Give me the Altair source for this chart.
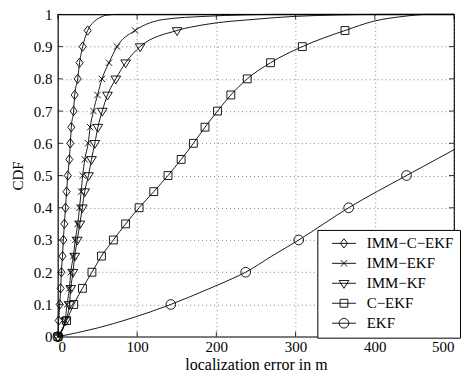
import altair as alt
import pandas as pd

# ---------------- data ----------------
series = ["IMM\u2212C\u2212EKF", "IMM\u2212EKF", "IMM\u2212KF", "C\u2212EKF", "EKF"]

cdf_marks = [0, 0.05, 0.1, 0.15, 0.2, 0.25, 0.3, 0.35, 0.4, 0.45, 0.5,
             0.55, 0.6, 0.65, 0.7, 0.75, 0.8, 0.85, 0.9, 0.95]

x_imm_c_ekf = [0, 1.0, 2.3, 3.5, 4.4, 5.8, 6.9, 8.2, 9.6, 11.0, 12.5,
               14.4, 15.7, 16.9, 19.8, 21.2, 25.0, 27.4, 31.3, 37.6]
x_imm_ekf = [0, 9.0, 11.5, 14.5, 16.3, 19.5, 22.0, 25.0, 27.3, 29.4, 31.3,
             34.0, 38.2, 40.8, 44.9, 50.0, 55.7, 64.5, 74.6, 97.4]
x_imm_kf = [0, 10.0, 14.5, 16.3, 19.0, 21.3, 24.4, 27.7, 30.8, 33.8, 38.6,
            42.4, 46.6, 50.5, 56.0, 62.6, 73.1, 85.5, 103.8, 150.4]
x_c_ekf = [0, 11.0, 20.0, 31.0, 43.0, 55.0, 70.0, 85.5, 102.5, 121.0, 139.0,
           155.6, 171.0, 185.7, 201.5, 218.3, 239.0, 268.4, 308.5, 362.4]

# tails of the curves above the last marker
tail_imm_c_ekf_x = [45, 53, 62, 74, 500]
tail_imm_c_ekf_y = [0.976, 0.99, 0.998, 1.0, 1.0]
tail_imm_ekf_x = [133, 187, 280, 500]
tail_imm_ekf_y = [0.984, 0.994, 1.0, 1.0]
tail_imm_kf_x = [187, 250, 300, 410, 500]
tail_imm_kf_y = [0.969, 0.985, 0.994, 1.0, 1.0]
tail_c_ekf_x = [399, 437, 467, 500]
tail_c_ekf_y = [0.979, 0.994, 1.0, 1.0]

# EKF: markers every 0.1, line through extra points
ekf_mark_cdf = [0, 0.1, 0.2, 0.3, 0.4, 0.5]
ekf_mark_x = [0, 142.5, 237, 304, 367, 440]
ekf_line_x = [0, 50, 91, 142.5, 190, 220, 237, 270, 304, 367, 440, 500]
ekf_line_y = [0, 0.027, 0.056, 0.1, 0.148, 0.18, 0.2, 0.25, 0.3, 0.4, 0.5, 0.58]

x_ticks = [0, 100, 200, 300, 400, 500]
y_ticks = [0, 0.1, 0.2, 0.3, 0.4, 0.5, 0.6, 0.7, 0.8, 0.9, 1.0]

# ---------------- tables ----------------
line_rows, mark_rows = [], []
groups = [
    (series[0], x_imm_c_ekf, cdf_marks, tail_imm_c_ekf_x, tail_imm_c_ekf_y),
    (series[1], x_imm_ekf, cdf_marks, tail_imm_ekf_x, tail_imm_ekf_y),
    (series[2], x_imm_kf, cdf_marks, tail_imm_kf_x, tail_imm_kf_y),
    (series[3], x_c_ekf, cdf_marks, tail_c_ekf_x, tail_c_ekf_y),
]
for name, xs_, ys_, tx, ty in groups:
    for x, y in zip(xs_ + tx, ys_ + ty):
        line_rows.append({"series": name, "x": x, "cdf": y})
    for x, y in zip(xs_, ys_):
        mark_rows.append({"series": name, "x": x, "cdf": y})
for x, y in zip(ekf_line_x, ekf_line_y):
    line_rows.append({"series": series[4], "x": x, "cdf": y})
for x, y in zip(ekf_mark_x, ekf_mark_cdf):
    mark_rows.append({"series": series[4], "x": x, "cdf": y})

line_df = pd.DataFrame(line_rows)
mark_df = pd.DataFrame(mark_rows)
xt_df = pd.DataFrame({"x": x_ticks})
yt_df = pd.DataFrame({"cdf": y_ticks})

# ---------------- styling ----------------
W, H = 397, 323
FONT = "Liberation Serif"

marker_paths = [
    "M0,-1.25L0.95,0L0,1.25L-0.95,0Z",
    "M-0.85,-0.85L0.85,0.85M-0.85,0.85L0.85,-0.85",
    "M-1.3,-0.75L1.3,-0.75L0,1.35Z",
    "M-1.05,-1.05L1.05,-1.05L1.05,1.05L-1.05,1.05Z",
    "M1.3,0A1.3,1.3,0,1,1,-1.3,0A1.3,1.3,0,1,1,1.3,0Z",
]
legend_paths = [
    "M0.33,0L6.73,0M3.53,-1.25L4.48,0L3.53,1.25L2.58,0Z",
    "M0.33,0L6.73,0M2.68,-0.85L4.38,0.85M2.68,0.85L4.38,-0.85",
    "M0.33,0L6.73,0M2.23,-0.75L4.83,-0.75L3.53,1.35Z",
    "M0.33,0L6.73,0M2.48,-1.05L4.58,-1.05L4.58,1.05L2.48,1.05Z",
    "M0.33,0L6.73,0M4.83,0A1.3,1.3,0,1,1,2.23,0A1.3,1.3,0,1,1,4.83,0Z",
]

xs = alt.Scale(domain=[0, 500], nice=False, zero=False)
ys = alt.Scale(domain=[0, 1], nice=False, zero=False)

x_axis = alt.Axis(
    values=x_ticks, title="localization error in m", titleFontSize=16,
    labelFont=FONT, titleFont=FONT, labelFontSize=15, labelColor="black",
    titleColor="black", titleFontWeight="normal",
    labelPadding=3, titlePadding=2, labelOverlap=False,
    grid=True, gridColor="#666666", gridDash=[1, 3], gridWidth=0.8,
    domain=False, ticks=False)
y_axis = alt.Axis(
    values=y_ticks, format="~g", title="CDF", titleFontSize=15,
    labelFont=FONT, titleFont=FONT, labelFontSize=15, labelColor="black",
    titleColor="black", titleFontWeight="normal",
    labelPadding=6, titlePadding=8, labelOverlap=False,
    grid=True, gridColor="#666666", gridDash=[1, 3], gridWidth=0.8,
    domain=False, ticks=False)

X = alt.X("x:Q", scale=xs, axis=x_axis)
Y = alt.Y("cdf:Q", scale=ys, axis=y_axis)

lines = alt.Chart(line_df).mark_line(
    color="black", strokeWidth=0.9, interpolate="monotone"
).encode(x=X, y=Y, detail="series:N")

markers = alt.Chart(mark_df).mark_point(
    filled=False, color="black", strokeWidth=0.9, size=56, opacity=1
).encode(
    x=X, y=Y,
    shape=alt.Shape("series:N", scale=alt.Scale(domain=series, range=marker_paths), legend=None),
)

legend_layer = alt.Chart(mark_df).mark_point(
    filled=False, color="black", strokeWidth=0.9, size=56, opacity=0
).encode(
    x=X, y=Y,
    shape=alt.Shape("series:N", scale=alt.Scale(domain=series, range=legend_paths),
                    legend=alt.Legend(
                        title=None, orient="none", legendX=260, legendY=216,
                        symbolOpacity=1, symbolStrokeColor="black",
                        symbolStrokeWidth=0.9, symbolSize=56,
                        labelFont=FONT, labelFontSize=15, labelColor="black",
                        labelOffset=28.5, padding=6, rowPadding=4.0,
                        strokeColor="black", fillColor="white")),
)

tick_style = dict(color="black", strokeWidth=0.8)
xt_bottom = alt.Chart(xt_df).mark_rule(**tick_style).encode(
    x=X, y=alt.value(H), y2=alt.value(H - 5))
xt_top = alt.Chart(xt_df).mark_rule(**tick_style).encode(
    x=X, y=alt.value(0), y2=alt.value(5))
yt_left = alt.Chart(yt_df).mark_rule(**tick_style).encode(
    y=Y, x=alt.value(0), x2=alt.value(5))
yt_right = alt.Chart(yt_df).mark_rule(**tick_style).encode(
    y=Y, x=alt.value(W), x2=alt.value(W - 5))

chart = alt.layer(
    lines, xt_bottom, xt_top, yt_left, yt_right, markers, legend_layer
).resolve_scale(shape="independent").properties(
    width=W, height=H,
    autosize=alt.AutoSizeParams(type="none"),
    padding={"left": 50, "top": 6, "right": 8, "bottom": 36},
    background="white",
).configure_view(stroke="black", strokeWidth=1.2)

chart.save("out.html", embed_options={"renderer": "svg", "actions": False})
